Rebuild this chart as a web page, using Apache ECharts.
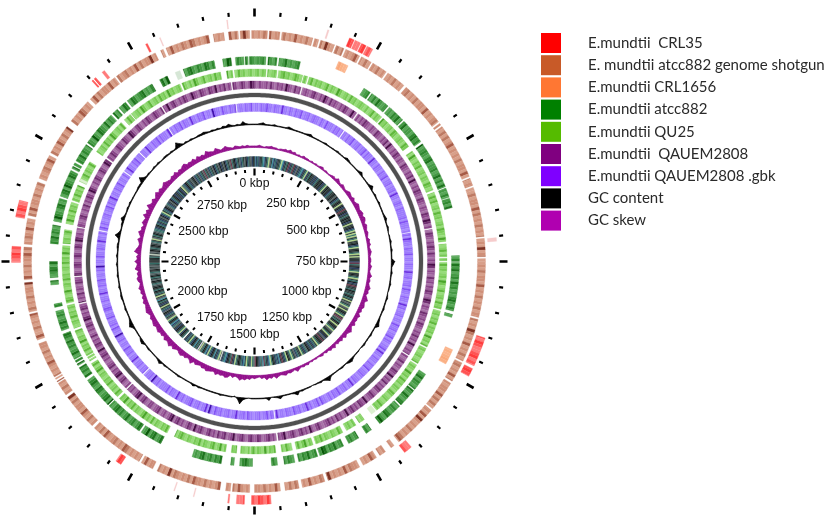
<!DOCTYPE html>
<html><head><meta charset="utf-8">
<style>html,body{margin:0;padding:0;background:#fff}#c{width:829px;height:520px;filter:blur(0.5px)}</style>
<script src="https://cdn.jsdelivr.net/npm/echarts@6/dist/echarts.min.js"></script>
</head><body><div id="c"></div>
<script>
// ---- data: positions in kbp ----
const genomeLength = 3000;
const tickLabelValues = [0,250,500,750,1000,1250,1500,1750,2000,2250,2500,2750];
const tickLabelTexts = ['0 kbp','250 kbp','500 kbp','750 kbp','1000 kbp','1250 kbp','1500 kbp','1750 kbp','2000 kbp','2250 kbp','2500 kbp','2750 kbp'];
const tickLabelRadii = [78,67,62,63,60,65,73,65,60,59,59,65];

const crl35Segments = [[192,202],[204,216],[218,228],[230,243],[903,962],[968,985],[1165,1182],[1467,1506],[1520,1536],[1550,1553],[1778,1790],[2248,2280],[2338,2372],[2650,2653],[2656,2660],[2676,2682],[2778,2782]];
const crl35Faint = [[146,149],[703,710],[1620,1622],[1660,1662],[2808,2810],[2945,2947]];
const shotgunSegments = [[0,27],[31,53],[57,122],[126,135],[139,169],[173,190],[194,226],[230,253],[257,290],[294,336],[342,440],[444,448],[452,570],[574,590],[594,698],[702,740],[744,867],[871,963],[967,1010],[1015,1080],[1084,1178],[1190,1198],[1212,1226],[1234,1266],[1274,1345],[1352,1400],[1407,1436],[1446,1500],[1510,1546],[1550,1560],[1572,1708],[1718,1745],[1750,1866],[1872,1950],[1956,1985],[1988,1990],[1994,1997],[2000,2076],[2084,2140],[2144,2206],[2212,2280],[2286,2340],[2346,2418],[2426,2478],[2484,2548],[2562,2615],[2622,2690],[2694,2788],[2800,2806],[2812,2904],[2914,2936],[2946,2966],[2970,2990],[2994,3000]];
const crl1656Segments = [[190,213],[950,985]];
const atcc882Segments = [[0,27],[32,53],[58,108],[269,287],[291,339],[343,386],[390,452],[458,572],[575,598],[600,623],[736,750],[752,867],[875,882],[1028,1072],[1075,1120],[1124,1186],[1210,1225],[1245,1272],[1285,1345],[1350,1396],[1405,1430],[1446,1460],[1505,1535],[1548,1556],[1578,1648],[1727,1780],[1785,1877],[1880,1955],[1962,1990],[1995,2000],[2004,2009],[2012,2077],[2085,2133],[2142,2150],[2195,2205],[2212,2250],[2292,2336],[2345,2400],[2405,2470],[2475,2481],[2484,2490],[2495,2540],[2545,2630],[2635,2650],[2655,2675],[2680,2750],[2770,2790],[2830,2905],[2925,2945],[2955,2975],[2978,2985],[2988,3000]];
const atcc882Faint = [[2810,2822]];
const qu25Segments = [[0,29],[33,56],[60,121],[124,134],[138,345],[349,444],[458,568],[574,700],[706,738],[742,748],[752,870],[874,970],[974,1017],[1021,1172],[1210,1225],[1235,1262],[1272,1345],[1352,1395],[1405,1432],[1447,1510],[1512,1535],[1545,1558],[1572,1705],[1725,1872],[1878,1983],[1990,1994],[1997,2002],[2005,2074],[2080,2140],[2145,2290],[2295,2330],[2345,2400],[2405,2445],[2455,2510],[2540,2635],[2645,2665],[2668,2810],[2815,2915],[2930,2945],[2950,3000]];
const qu25Faint = [[1175,1188],[2456,2462]];
const qau2808Segments = [[0,125],[129,288],[292,660],[664,1010],[1014,1436],[1441,1874],[1878,2135],[2139,2208],[2212,2340],[2344,2538],[2543,2740],[2744,2937],[2941,3000]];
const gbkSegments = [[0,285],[289,660],[663,1436],[1440,1870],[1874,2342],[2346,2536],[2540,2610],[2614,2724],[2728,2942],[2946,3000]];
const backboneSegments = [[0,3000]];

const crl35Shade = ['01210','20120','10210','01201'];
const shotgunShade = [
'12132412213121412131221315212313121241213122131211',
'21312152312131221412123122131312412121312214131221',
'13122141312131213121512311213122141213121312231215',
'31214121312231214132122141313122141521213121341212',
'12213124121312231412121532312141212313122141213122',
'31212413121342121312241312123151213122141312121341',
'21321241312121312412213151213124131212412131223141',
'13121241312131221514121312241312132141212314122131',
'21341212312411312142131252131214312121413122141213',
'12312141312251213121412132143121241312121413125212'];
const atcc882Shade = [
'12231421331241212313241221314212313224131214212331',
'31421231213241324122134231512321341223124131422131',
'23142132413214231341522131424123142312134213241321',
'13214231452132413214212413213421421342132134125312',
'24132134213241321423145213214231341231423132141232',
'31243125132414231321431214312413214213421431521342',
'13214213243125143213412431241324153214213241342132',
'42132143215214321431243142131241324132142153213412',
'21341532143214213241321432152143214132141321432143',
'12341213421341521432141342132143132412154213214132'];
const qu25Shade = [
'12021301210231201320120130212013021042012031201210',
'20130210412012032012103201204102130120210320120313',
'01203120120321041201302120312012042013012031201202',
'13021204120312012013021041203120210320120131204120',
'02103120210413012012031201204203120130210312040120',
'31201203120120410320120312012013204120312012030214',
'20120312041201302103120120420312012031204120132012',
'03120210320140120312012031204120312013021041203120',
'12031204120130210312014201203120420120312031201204',
'20130120312041201203102042013012031201402103120120'];
const qau2808Shade = [
'21322314213231532142312321342132531423213243125213',
'13243213214321324152132431321432132415213243214321',
'32143254132143213243142132541321423132431254132143',
'23143213242315213243124132143251324132431243215234',
'13243152132413243212431251324312432153241324321342',
'24312432153214324132431243251342132431542132143213',
'31243154213243124315423143213243251342314213243154',
'23143251324132143254213431243124315423124321342132',
'41324315421324312431254132431243214321542134213243',
'12432143251342132431253214321432513241324312431254'];
const gbkShade = [
'11021131102110411021021130112012110210311102120211',
'02113011201130211041102110211301120112041101210211',
'11203111011204211021130110211041120112031102110412',
'01120110311201130210113041102110211301121011204110',
'21103112021011303110214110211301120110411203110211',
'01130211041102110211301504110211032110211401120311',
'11021150211031102110411021130110211501130211031102',
'31102110411021130110215011031102110411021130210112',
'01130211401102113011021104110213011211041102113021',
'11041102113021104110211301105211031102114011021130'];
const cdsShade = [
'85150018501620851500168501075017052051850165019005',
'05109095016090951009029510906095070950109095060095',
'16061601600951609016060095710950160901601950700190',
'01091060201620609016072019060901620916095207090160',
'15015092150160015201610961507085150916850178215097',
'21650160851090165071095815026150809516580912650108',
'09516015041095610950215809162015092510605019820601',
'09109021092019021092020109091030290109021062019021',
'15091501502951601590215029510950051950621590150209',
'25102510271025102951029502951027109510251029510259'];
const cdsBreaks = [[1772,1775],[1660,1662]];

const gcContent = [
 1,1,2,3,1,1,1,2,1,1,1,1,3,2,1,1,1,1,1,2,3,1,1,1,1,
 1,2,1,1,1,1,2,1,1,1,3,2,1,1,1,1,2,4,1,1,1,1,2,5,1,1,
 2,1,1,2,1,1,1,1,2,3,1,1,2,1,0,1,1,2,1,1,2,1,1,1,
 5,3,1,1,2,1,1,1,2,1,1,0,1,2,1,1,1,2,1,1,1,2,3,5,1,
 1,1,2,1,1,1,2,1,0,1,1,1,2,4,3,1,1,2,1,1,1,1,2,6,3,
 1,2,1,1,0,1,1,1,2,1,5,2,1,1,1,1,4,2,1,0,4,1,1,1,1,
 1,1,0,1,3,9,2,-1,1,1,1,1,2,1,1,1,1,1,1,1,2,1,3,1,1,
 1,1,1,2,1,1,1,1,1,2,1,4,2,1,1,1,1,2,1,1,4,3,1,1,1,
 1,2,6,4,2,1,1,1,2,1,1,1,2,2,1,1,2,1,1,1,2,1,1,1,2,
 1,1,2,1,1,2,2,1,2,7,3,1,1,2,2,5,2,1,1,2,1,2,1,1,1,
 1,1,2,2,2,8,3,1,2,1,1,2,1,2,1,1,2,2,1,2,1,2,8,4,1,
 2,1,2,1,1,2,2,3,2,1,2,1,2,1,3,2,4,2,1,2,1,5,2,1,1];
const gcSkew = [
 2,2,3,2,1,2,2,3,2,2,1,2,2,3,2,4,2,3,1,2,1,3,2,2,1,
 2,1,2,1,2,3,1,2,1,1,2,3,2,5,3,2,4,3,2,3,5,4,3,5,3,
 4,6,5,4,5,6,4,6,5,3,5,4,3,4,3,2,4,3,4,2,3,4,3,2,3,
 3,2,4,3,2,3,5,3,4,3,4,6,4,5,3,5,7,4,5,6,4,5,3,6,4,
 5,4,6,3,5,7,5,4,6,3,5,3,4,2,5,3,4,2,3,1,3,2,1,2,1,
 2,1,3,2,3,2,3,5,2,3,4,3,5,4,3,4,6,3,5,4,6,3,4,2,3,
 4,3,5,4,6,5,7,4,3,5,3,6,7,5,6,5,7,4,5,6,7,5,6,4,5,
 6,4,8,5,4,6,5,7,6,4,5,7,5,8,6,5,7,4,6,5,7,6,5,7,6,
 5,6,4,5,7,6,5,4,6,4,5,3,5,4,6,4,3,5,6,4,5,3,7,5,4,
 7,4,5,3,8,6,4,3,4,6,3,5,7,4,5,3,6,5,4,8,5,7,4,9,6,
 5,7,4,6,8,5,7,5,6,8,6,5,4,6,5,7,4,6,5,7,8,5,6,5,7,
 4,7,5,6,4,8,6,5,4,7,5,3,4,6,4,3,2,4,3,2,3,2,3,2,2];

const legendNames = ['E.mundtii  CRL35','E. mundtii atcc882 genome shotgun','E.mundtii CRL1656','E.mundtii atcc882','E.mundtii QU25','E.mundtii  QAUEM2808','E.mundtii QAUEM2808 .gbk','GC content','GC skew'];

// ---- styling and layout ----
const legendColors = ['#ff0000','#c85a28','#ff7733','#008000','#55bb00','#800080','#7f00ff','#000000','#b000b0'];
const ramps = {
  red:['#ff7a7a','#ff5454','#ff3c3c','#ff2a2a','#ee1a1a','#cc0808','#f6cccc'],
  brown:['#e0b09c','#d8a08a','#cf8f78','#bd7a63','#a65a45','#7e3324'],
  orange:['#fbb48c','#fab084','#f9a87a','#f8a070','#f59a68','#ef8850'],
  dgreen:['#6fb56f','#58a858','#459a45','#308830','#1e741e','#0a5a0a','#d6e6d6'],
  lgreen:['#98dc7c','#88d468','#78ca56','#60b83c','#4aa52a','#2f8a15','#dcf0d0'],
  purple:['#b688b6','#a872a8','#9c5e9c','#8a468a','#702e70','#480e48'],
  violet:['#a98cff','#9c7afc','#9268fa','#8252f4','#6a2fe0','#3f0eae'],
  gray:['#505050'],
  cds:['#2e3d3d','#35706a','#5a6668','#c9d6c4','#ffffff','#2b3f63','#b9d98a','#6e3348','#3f8fa0','#141a1a']
};
const cx = 254.5, cy = 261.5, shadeBin = 6;

function textured(segments, shade){
  const lines = shade.join(''), out = [];
  segments.forEach(([s,e])=>{
    let a = s;
    while(a < e){
      const i = Math.floor(a/shadeBin);
      const b = Math.min(e,(i+1)*shadeBin);
      const ch = lines[i % lines.length];
      out.push([a,b,ch===undefined?2:+ch]);
      a = b;
    }
  });
  return out;
}
function flat(segments, level){ return segments.map(([s,e])=>[s,e,level]); }
function ringRender(r0,r1,colors){
  return function(params,api){
    const a=api.value(0), b=api.value(1), c=colors[api.value(2)];
    const n=Math.max(1,Math.ceil((b-a)/5)), pts=[];
    for(let i=0;i<=n;i++) pts.push(api.coord([r1,a+(b-a)*i/n]).slice(0,2));
    for(let i=n;i>=0;i--) pts.push(api.coord([r0,a+(b-a)*i/n]).slice(0,2));
    return {type:'polygon',shape:{points:pts},style:{fill:c,stroke:c,lineWidth:0.3}};
  };
}
function ring(name,legendColor,r0,r1,colors,data,z){
  return {type:'custom',name,coordinateSystem:'polar',polarIndex:0,data,renderItem:ringRender(r0,r1,colors),
    itemStyle:{color:legendColor},animation:false,progressive:0,silent:true,z:z||2};
}
function plot(name,legendColor,color,base,values,lw,gain,fixedInner){
  const step = genomeLength/values.length;
  const data = values.map((v,i)=>[i*step,v,values[(i+1)%values.length]]);
  return {type:'custom',name,coordinateSystem:'polar',polarIndex:0,data,animation:false,progressive:0,silent:true,z:3,
    itemStyle:{color:legendColor},
    renderItem(params,api){
      const a=api.value(0), b=a+step, v1=base+gain*api.value(1), v2=base+gain*api.value(2);
      const p=[api.coord([fixedInner,a]),api.coord([v1,a]),api.coord([v2,b]),api.coord([fixedInner,b])].map(q=>q.slice(0,2));
      return {type:'polygon',shape:{points:p},style:{fill:color,stroke:color,lineWidth:lw}};
    }};
}
const noAxis = i=>({polarIndex:i,type:'value',min:0,max:255,show:false});
function tickAxis(i,major,minor){
  return {polarIndex:i,type:'value',min:0,max:genomeLength,interval:250,startAngle:90,clockwise:true,
    axisLine:{show:false},axisLabel:{show:false},splitLine:{show:false},minorSplitLine:{show:false},
    axisTick:major?{show:true,inside:true,length:major[0],lineStyle:{color:'#000',width:major[1]}}:{show:false,inside:true},
    minorTick:minor?{show:true,splitNumber:5,length:minor[0],lineStyle:{color:'#000',width:minor[1]}}:{show:false}};
}
const labelSeries = {type:'custom',name:'tick labels',coordinateSystem:'polar',polarIndex:0,animation:false,silent:true,z:4,
  data:tickLabelValues.map((v,i)=>[v,tickLabelRadii[i],i]),
  renderItem(params,api){
    const p=api.coord([api.value(1),api.value(0)]);
    return {type:'text',style:{x:p[0],y:p[1],text:tickLabelTexts[api.value(2)],align:'center',verticalAlign:'middle',
      fill:'#111',font:'12.2px "Liberation Sans", Arial, sans-serif'}};
  }};

const option = {
  animation:false,
  backgroundColor:'#fff',
  polar:[
    {center:[cx,cy],radius:255},
    {center:[cx,cy],radius:253},
    {center:[cx,cy],radius:250},
    {center:[cx,cy],radius:93},
    {center:[cx,cy],radius:92}
  ],
  radiusAxis:[noAxis(0),noAxis(1),noAxis(2),noAxis(3),noAxis(4)],
  angleAxis:[
    {polarIndex:0,type:'value',min:0,max:genomeLength,startAngle:90,clockwise:true,show:false},
    tickAxis(1,[8,2.6],null),
    tickAxis(2,null,[4,2.2]),
    tickAxis(3,[7,2.2],null),
    tickAxis(4,null,[3,2])
  ],
  legend:{
    orient:'vertical',left:541,top:33,padding:0,itemWidth:20,itemHeight:20,itemGap:2.2,icon:'rect',selectedMode:false,
    data:legendNames,
    textStyle:{fontFamily:'Lato',fontSize:15,color:'#2a2a2a',padding:[0,0,0,22]}
  },
  series:[
    ring(legendNames[0],legendColors[0],234,243,ramps.red,[...textured(crl35Segments,crl35Shade),...flat(crl35Faint,6)]),
    ring(legendNames[1],legendColors[1],223,231,ramps.brown,textured(shotgunSegments,shotgunShade)),
    ring(legendNames[2],legendColors[2],209,217,ramps.orange,textured(crl1656Segments,crl35Shade)),
    ring(legendNames[3],legendColors[3],197,205,ramps.dgreen,[...textured(atcc882Segments,atcc882Shade),...flat(atcc882Faint,6)]),
    ring(legendNames[4],legendColors[4],185,192.5,ramps.lgreen,[...textured(qu25Segments,qu25Shade),...flat(qu25Faint,6)]),
    ring(legendNames[5],legendColors[5],173,180.5,ramps.purple,textured(qau2808Segments,qau2808Shade)),
    ring('backbone','#505050',164.5,168.5,ramps.gray,flat(backboneSegments,0)),
    ring(legendNames[6],legendColors[6],150,158.5,ramps.violet,textured(gbkSegments,gbkShade)),
    plot(legendNames[7],legendColors[7],'#000',136.8,gcContent,0.6,0.7,136.8),
    plot(legendNames[8],legendColors[8],'#92108c',114,gcSkew,0.6,0.8,114),
    ring('CDS','#2e3d3d',95,105,ramps.cds,[...textured([[0,3000]],cdsShade),...flat(cdsBreaks,4)]),
    labelSeries
  ]
};
echarts.init(document.getElementById('c'),null,{renderer:'canvas'}).setOption(option);
</script></body></html>
